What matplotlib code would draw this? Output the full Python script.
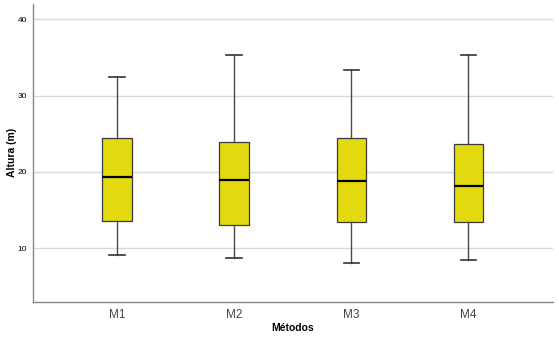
import matplotlib
matplotlib.use('Agg')
import matplotlib.pyplot as plt

plt.rcParams['font.family'] = ['Liberation Sans', 'DejaVu Sans']

# datos
metodos = ['M1', 'M2', 'M3', 'M4']
bigote_inf = [9.1, 8.7, 8.1, 8.4]
q1 = [13.6, 13.0, 13.4, 13.4]
mediana = [19.4, 18.9, 18.8, 18.1]
q3 = [24.4, 23.9, 24.4, 23.6]
bigote_sup = [32.5, 35.3, 33.4, 35.3]

stats = []
for i, m in enumerate(metodos):
    stats.append({'label': m, 'whislo': bigote_inf[i], 'q1': q1[i],
                  'med': mediana[i], 'q3': q3[i], 'whishi': bigote_sup[i]})

fig = plt.figure(figsize=(5.59, 3.39), dpi=100)
ax = fig.add_axes([0.0585, 0.110, 0.930, 0.878])

ax.bxp(stats, positions=range(1, 5), widths=0.25, showfliers=False,
       patch_artist=True, capwidths=0.13,
       boxprops=dict(facecolor='#e3d90f', edgecolor='#3a3a3a', linewidth=0.9),
       whiskerprops=dict(color='#4a4a4a', linewidth=1.0),
       capprops=dict(color='#333333', linewidth=1.2),
       medianprops=dict(color='black', linewidth=1.6))

ax.set_xlim(0.28, 4.72)
ax.set_ylim(3, 42)
ax.set_yticks([10, 20, 30, 40])
ax.yaxis.grid(True, color='#d9d9d9', linewidth=1.0)
ax.set_axisbelow(True)

for s in ['top', 'right']:
    ax.spines[s].set_visible(False)
for s in ['left', 'bottom']:
    ax.spines[s].set_color('#888888')
    ax.spines[s].set_linewidth(1.0)

ax.tick_params(axis='y', length=0, labelsize=6, pad=4)
ax.tick_params(axis='x', length=0, labelsize=8.5, labelcolor='#444444', pad=5)
ax.set_xticklabels(metodos)

ax.set_ylabel('Altura (m)', fontsize=7.5, fontweight='bold')
ax.yaxis.set_label_coords(-0.030, 0.5)
ax.set_xlabel('Métodos', fontsize=7.5, fontweight='bold', labelpad=2)

fig.savefig('out.png', dpi=100)
